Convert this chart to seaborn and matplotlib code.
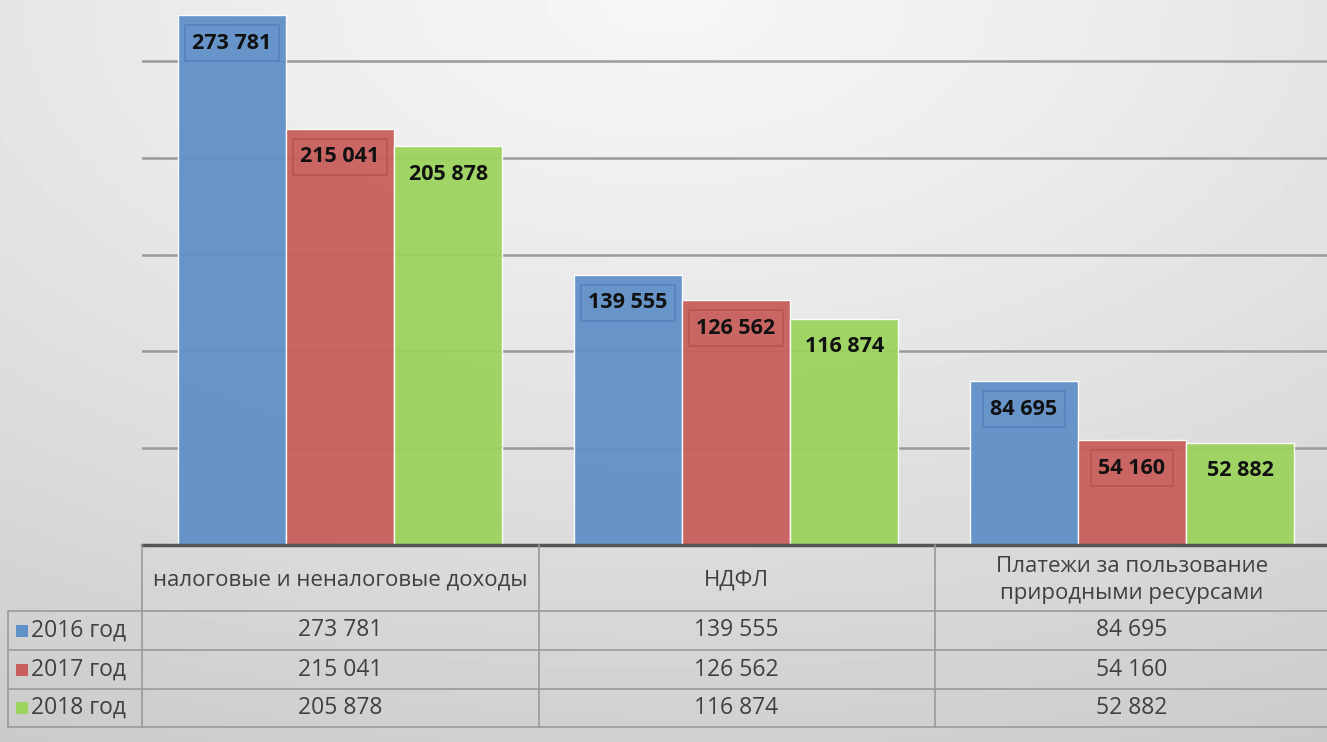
import numpy as np
import pandas as pd
import matplotlib
matplotlib.use("Agg")
import matplotlib.pyplot as plt
import matplotlib.transforms as mtransforms
from matplotlib.patches import Rectangle
from matplotlib.lines import Line2D
import seaborn as sns

# ---- data ----
categories = ["налоговые и неналоговые доходы", "НДФЛ", "Платежи за пользование\nприродными ресурсами"]
years = ["2016 год", "2017 год", "2018 год"]
values_2016 = [273781, 139555, 84695]
values_2017 = [215041, 126562, 54160]
values_2018 = [205878, 116874, 52882]
colors = ["#6090C8", "#C85F5C", "#9CD45E"]

def fmt(v):
    return f"{v:,}".replace(",", " ")

series = [values_2016, values_2017, values_2018]
df = pd.DataFrame({
    "cat": categories * 3,
    "year": [y for y in years for _ in categories],
    "val": [v for s in series for v in s],
})

sns.set_theme(style="white")
plt.rcParams["font.family"] = ["Open Sans", "DejaVu Sans"]

W, H = 1327, 742
fig = plt.figure(figsize=(W / 100, H / 100), dpi=100)

def fx(x):
    return x / W

def fy(y):
    return 1 - y / H

# background gradient
bg = fig.add_axes([0, 0, 1, 1], zorder=-10)
yy, xx = np.mgrid[0:1:200j, 0:1:300j]
r = np.sqrt(((xx - 0.5) * 1.0) ** 2 + (yy * 1.0) ** 2)
img = 0.965 - 0.15 * np.clip(r, 0, 1.2) ** 1.2
bg.imshow(img, cmap="gray", vmin=0, vmax=1, aspect="auto", extent=[0, 1, 0, 1], origin="upper")
bg.axis("off")

# main axes
left, right_px, base_px = 142, 1330, 545
ax = fig.add_axes([fx(left), fy(base_px), (right_px - left) / W, base_px / H])
ax.set_facecolor("none")
sns.barplot(data=df, x="cat", y="val", hue="year", palette=colors, width=0.82,
            gap=0, saturation=1, edgecolor="white", linewidth=1, alpha=0.95,
            ax=ax, legend=False, zorder=3)
ax.set_xlim(-0.5, 2.5)
ax.set_ylim(0, base_px * 516.6)
ax.set_yticks([50000, 100000, 150000, 200000, 250000])
ax.yaxis.grid(True, color="#9a9a9a", linewidth=1.8, zorder=0)
ax.set_axisbelow(True)
ax.set_yticklabels([])
ax.set_xticks([])
ax.set_xlabel("")
ax.set_ylabel("")
ax.tick_params(left=False, bottom=False)
for s in ax.spines.values():
    s.set_visible(False)

# data labels inside bars
box_cols = ["#5582bb", "#b85553", None]
for i, cont in enumerate(ax.containers):
    for bar in cont:
        h = bar.get_height()
        xc = bar.get_x() + bar.get_width() / 2
        bbox = None
        if box_cols[i]:
            bbox = dict(boxstyle="square,pad=0.35", fc="none", ec=box_cols[i], lw=1.2)
        ax.annotate(fmt(int(round(h))), xy=(xc, h), xytext=(0, -28), textcoords="offset pixels",
                    ha="center", va="center", fontsize=15.5, fontweight="bold", color="#111111",
                    bbox=bbox, zorder=5)

# ---- data table ----
line_c = "#9a9a9a"
fig.add_artist(Line2D([fx(left), 1], [fy(base_px), fy(base_px)], color="#555555", lw=2.5, transform=fig.transFigure))
row_y = [611, 650, 689, 727]
for y in row_y:
    fig.add_artist(Line2D([fx(8), 1], [fy(y), fy(y)], color=line_c, lw=1.2, transform=fig.transFigure))
for x in [142, 539, 935]:
    fig.add_artist(Line2D([fx(x), fx(x)], [fy(base_px), fy(727)], color=line_c, lw=1.2, transform=fig.transFigure))
fig.add_artist(Line2D([fx(8), fx(8)], [fy(611), fy(727)], color=line_c, lw=1.2, transform=fig.transFigure))

trans = mtransforms.blended_transform_factory(ax.transData, fig.transFigure)
txt_c = "#404040"
for j, c in enumerate(categories):
    fig.text(j, fy(580), c, transform=trans, ha="center", va="center", fontsize=16,
             color=txt_c, linespacing=1.38)

for i, (yr, s) in enumerate(zip(years, series)):
    yc = (row_y[i] + row_y[i + 1]) / 2
    fig.add_artist(Rectangle((fx(16), fy(yc + 6)), 12 / W, 12 / H, transform=fig.transFigure,
                             fc=colors[i], ec="none"))
    fig.text(fx(31), fy(yc), yr, ha="left", va="center", fontsize=16.5, color=txt_c)
    for j, v in enumerate(s):
        fig.text(j, fy(yc), fmt(v), transform=trans, ha="center", va="center", fontsize=16.5, color=txt_c)

fig.savefig("out.png", dpi=100)
